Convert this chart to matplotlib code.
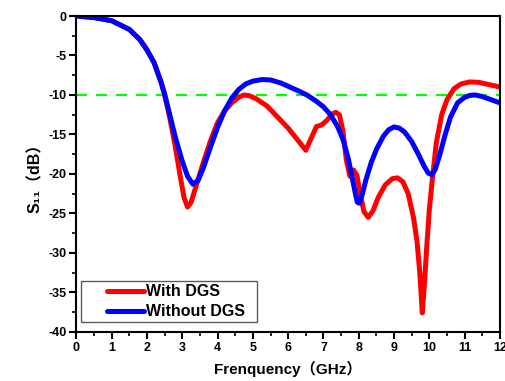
import numpy as np
import matplotlib.pyplot as plt
from matplotlib.ticker import MultipleLocator
from matplotlib.legend_handler import HandlerLine2D
from matplotlib.lines import Line2D

plt.rcParams['font.family'] = ['Liberation Sans', 'Noto Sans CJK SC']
plt.rcParams['font.weight'] = 'bold'
plt.rcParams['axes.unicode_minus'] = False

# With DGS
f_dgs = [0, 0.5, 1.0, 1.5, 1.8, 2.0, 2.2, 2.4, 2.5, 2.65, 2.8, 2.95, 3.05, 3.15, 3.25, 3.4, 3.6,
         3.8, 4.0, 4.2, 4.4, 4.6, 4.75, 4.9, 5.1, 5.4, 5.7, 6.0, 6.25, 6.5, 6.65, 6.8, 6.95, 7.1,
         7.25, 7.35, 7.45, 7.55, 7.65, 7.75, 7.85, 7.95, 8.05, 8.15, 8.27, 8.4, 8.55, 8.75, 8.95,
         9.1, 9.25, 9.4, 9.55, 9.65, 9.73, 9.8, 9.86, 9.93, 10.0, 10.1, 10.2, 10.35, 10.5, 10.7,
         10.9, 11.15, 11.4, 11.7, 12.0]
s_dgs = [0, -0.2, -0.6, -1.7, -3.0, -4.3, -5.9, -8.4, -10.0, -13.0, -16.5, -20.5, -23.0, -24.2,
         -23.6, -21.4, -18.5, -15.8, -13.5, -12.0, -11.0, -10.3, -10.0, -10.1, -10.5, -11.4,
         -12.8, -14.2, -15.6, -17.0, -15.5, -14.0, -13.8, -13.2, -12.4, -12.2, -12.5, -14.5,
         -18.3, -20.3, -19.5, -20.2, -22.8, -24.8, -25.5, -24.7, -23.0, -21.4, -20.6, -20.5,
         -21.0, -22.5, -25.5, -28.5, -32.5, -37.6, -34.0, -29.0, -24.5, -20.0, -16.0, -12.5,
         -10.6, -9.2, -8.6, -8.35, -8.4, -8.7, -9.0]

# Without DGS
f_ref = [0, 0.5, 1.0, 1.5, 1.8, 2.0, 2.2, 2.4, 2.5, 2.65, 2.8, 3.0, 3.15, 3.3, 3.45, 3.6, 3.8,
         4.0, 4.2, 4.4, 4.6, 4.8, 5.0, 5.25, 5.5, 5.8, 6.1, 6.3, 6.53, 6.8, 7.0, 7.2, 7.4, 7.55,
         7.7, 7.82, 7.9, 7.96, 8.02, 8.1, 8.2, 8.35, 8.5, 8.7, 8.85, 9.0, 9.15, 9.3, 9.5, 9.7,
         9.85, 9.97, 10.07, 10.17, 10.3, 10.45, 10.6, 10.8, 11.0, 11.15, 11.3, 11.5, 11.75, 12.0]
s_ref = [0, -0.2, -0.6, -1.7, -3.0, -4.3, -5.9, -8.4, -9.9, -12.6, -15.3, -18.4, -20.3, -21.3,
         -20.8, -19.2, -16.6, -14.1, -12.0, -10.4, -9.3, -8.6, -8.25, -8.05, -8.1, -8.5, -9.1,
         -9.5, -10.0, -10.8, -11.5, -12.5, -14.0, -15.6, -18.0, -20.6, -22.4, -23.6, -23.7,
         -22.6, -20.8, -18.6, -16.9, -15.2, -14.4, -14.05, -14.2, -14.7, -15.9, -17.6, -19.0,
         -19.9, -20.1, -19.4, -17.5, -15.0, -12.8, -11.0, -10.3, -10.05, -10.0, -10.2, -10.6,
         -11.0]

freq_limits = [0, 12]
s11_limits = [-40, 0]
ref_level = -10


class ShortLine(HandlerLine2D):
    # Origin style legend: line sits to the right of an empty gap
    def create_artists(self, legend, orig_handle, xdescent, ydescent, width, height,
                       fontsize, trans):
        y = height / 2 - ydescent
        x0 = -xdescent + width * 0.38
        x1 = -xdescent + width
        ln = Line2D([x0, x1], [y, y], color=orig_handle.get_color(), lw=3.6,
                    solid_capstyle='round')
        ln.set_transform(trans)
        return [ln]


fig = plt.figure(figsize=(5.06, 3.81), dpi=100)
ax = fig.add_axes([0.151, 0.129, 0.837, 0.829])

ax.axhline(ref_level, color='#00ff00', lw=1.6, ls=(0, (5, 4)))
ax.plot(f_dgs, s_dgs, color='#ff0000', lw=3.6, label='With DGS   ', solid_joinstyle='round')
ax.plot(f_ref, s_ref, color='#0000ff', lw=3.6, label='Without DGS  ', solid_joinstyle='round')

ax.set_xlim(freq_limits)
ax.set_ylim(s11_limits)
ax.xaxis.set_major_locator(MultipleLocator(1))
ax.xaxis.set_minor_locator(MultipleLocator(0.5))
ax.yaxis.set_major_locator(MultipleLocator(5))
ax.yaxis.set_minor_locator(MultipleLocator(2.5))
ax.tick_params(which='major', direction='out', length=5, width=1.5, labelsize=9, pad=2)
ax.tick_params(which='minor', direction='out', length=3, width=1.2)
for sp in ax.spines.values():
    sp.set_linewidth(1.5)

ax.set_xlabel('Frenquency（GHz）', fontsize=11, fontweight='bold', labelpad=5)
ax.set_ylabel('S₁₁（dB）', fontsize=11.5, fontweight='bold', labelpad=4)

leg = ax.legend(loc='lower left', bbox_to_anchor=(0.012, 0.03), fontsize=11.5,
                fancybox=False, edgecolor='#333333', handlelength=3.7,
                borderpad=0.2, labelspacing=0.3, handletextpad=0.15, borderaxespad=0,
                handler_map={Line2D: ShortLine()})
leg.get_frame().set_linewidth(1.0)

fig.savefig('out.png', dpi=100)
